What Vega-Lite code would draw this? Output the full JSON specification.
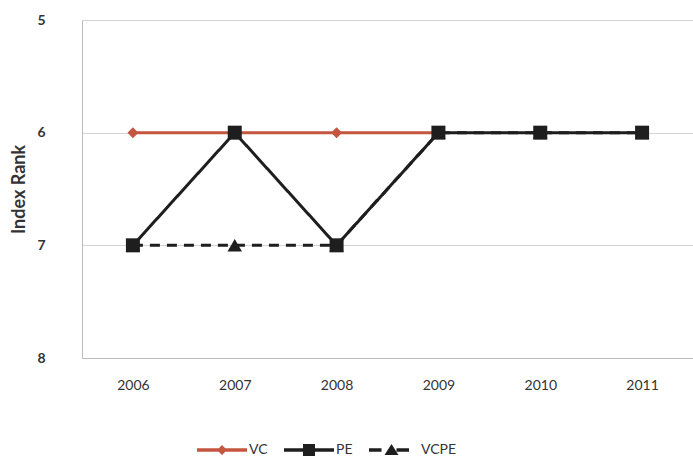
{
  "$schema": "https://vega.github.io/schema/vega-lite/v6.json",
  "width": 611,
  "height": 338,
  "autosize": {"type": "none"},
  "padding": {"left": 82, "top": 20, "right": 0, "bottom": 103},
  "background": "white",
  "config": {"font": "Lato", "view": {"stroke": null}},
  "data": {
    "values": [
      {"year": "2006", "series": "VC", "rank": 6},
      {"year": "2007", "series": "VC", "rank": 6},
      {"year": "2008", "series": "VC", "rank": 6},
      {"year": "2009", "series": "VC", "rank": 6},
      {"year": "2006", "series": "VCPE", "rank": 7},
      {"year": "2007", "series": "VCPE", "rank": 7},
      {"year": "2008", "series": "VCPE", "rank": 7},
      {"year": "2009", "series": "VCPE", "rank": 6},
      {"year": "2010", "series": "VCPE", "rank": 6},
      {"year": "2011", "series": "VCPE", "rank": 6},
      {"year": "2006", "series": "PE", "rank": 7},
      {"year": "2007", "series": "PE", "rank": 6},
      {"year": "2008", "series": "PE", "rank": 7},
      {"year": "2009", "series": "PE", "rank": 6},
      {"year": "2010", "series": "PE", "rank": 6},
      {"year": "2011", "series": "PE", "rank": 6}
    ]
  },
  "encoding": {
    "x": {
      "field": "year",
      "type": "ordinal",
      "sort": null,
      "scale": {"type": "point", "padding": 0.5},
      "axis": {
        "title": null,
        "labelAngle": 0,
        "ticks": false,
        "grid": false,
        "domainColor": "#bbbbbb",
        "labelPadding": 20,
        "labelFontSize": 14,
        "labelColor": "#333333"
      }
    },
    "y": {
      "field": "rank",
      "type": "quantitative",
      "scale": {"domain": [5, 8], "reverse": true, "nice": false, "zero": false},
      "axis": {
        "values": [5, 6, 7, 8],
        "title": "Index Rank",
        "titleFontSize": 18,
        "titleFontWeight": "bold",
        "titleColor": "#333333",
        "titlePadding": 8,
        "labelFontSize": 14,
        "labelFontWeight": "bold",
        "labelColor": "#333333",
        "labelPadding": 37,
        "ticks": false,
        "domainColor": "#bbbbbb",
        "gridColor": "#d4d4d4"
      }
    },
    "color": {
      "field": "series",
      "type": "nominal",
      "scale": {"domain": ["VC", "PE", "VCPE"], "range": ["#c4553f", "#1e1e1e", "#1e1e1e"]},
      "legend": {
        "orient": "none",
        "legendX": 115,
        "legendY": 405,
        "direction": "horizontal",
        "title": null,
        "symbolSize": 2500,
        "labelFontSize": 14,
        "labelColor": "#333333",
        "labelOffset": 2,
        "columnPadding": 16,
        "encode": {
          "symbols": {
            "update": {
              "shape": [
                {"test": "datum.value === 'VC'", "value": "M-1,-0.07H1V0.07H-1Z M0,-0.2L0.2,0L0,0.2L-0.2,0Z"},
                {"test": "datum.value === 'PE'", "value": "M-1,-0.07H1V0.07H-1Z M-0.24,-0.24H0.24V0.24H-0.24Z"},
                {"value": "M-1,-0.07H-0.5V0.07H-1Z M-0.38,0.2L-0.1,-0.24L0.18,0.2Z M0.1,-0.07H0.6V0.07H0.1Z"}
              ],
              "fill": {"scale": "color", "field": "value"},
              "stroke": {"value": "transparent"},
              "strokeWidth": {"value": 0},
              "strokeDash": {"value": []},
              "opacity": {"value": 1}
            }
          }
        }
      }
    }
  },
  "layer": [
    {
      "mark": {"type": "line", "strokeWidth": 3},
      "encoding": {
        "strokeDash": {
          "field": "series",
          "type": "nominal",
          "scale": {"domain": ["VC", "PE", "VCPE"], "range": [[1, 0], [1, 0], [10, 7]]},
          "legend": null
        }
      }
    },
    {
      "transform": [{"filter": "datum.series === 'VC'"}],
      "mark": {"type": "point", "filled": true, "opacity": 1, "shape": "diamond", "size": 120}
    },
    {
      "transform": [{"filter": "datum.series === 'VCPE'"}],
      "mark": {"type": "point", "filled": true, "opacity": 1, "shape": "triangle-up", "size": 210}
    },
    {
      "transform": [{"filter": "datum.series === 'PE'"}],
      "mark": {"type": "point", "filled": true, "opacity": 1, "shape": "square", "size": 196}
    }
  ]
}
